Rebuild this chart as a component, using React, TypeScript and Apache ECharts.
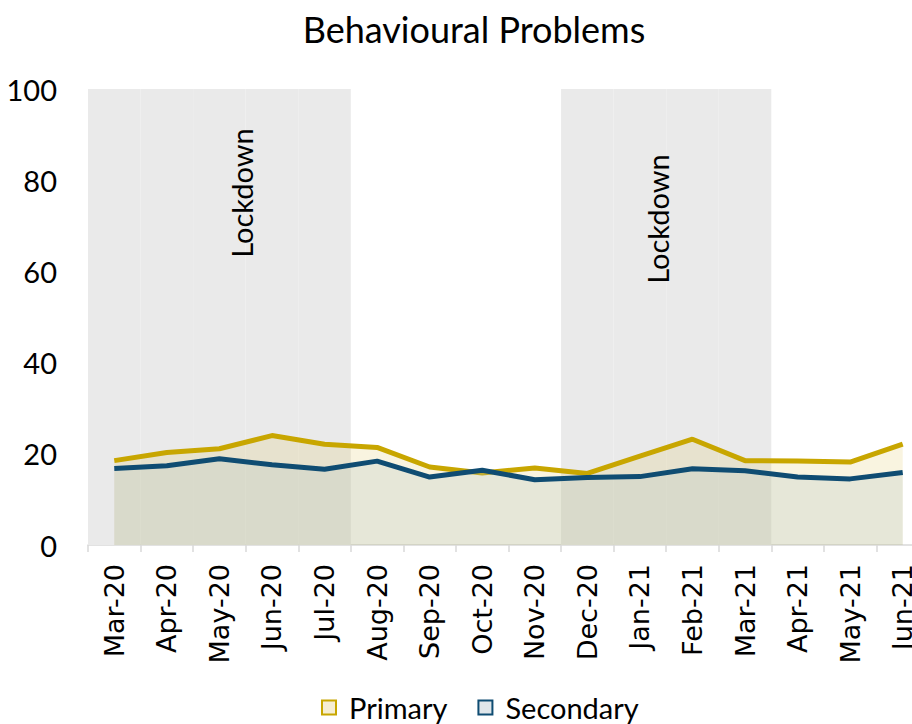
import React, { useEffect, useRef } from "react";
import * as echarts from "echarts";

const categories = [
  "Mar-20", "Apr-20", "May-20", "Jun-20", "Jul-20", "Aug-20", "Sep-20", "Oct-20",
  "Nov-20", "Dec-20", "Jan-21", "Feb-21", "Mar-21", "Apr-21", "May-21", "Jun-21",
];
const primary = [18.5, 20.3, 21.1, 24.0, 22.1, 21.4, 17.1, 15.8, 16.9, 15.7, 19.5, 23.2, 18.5, 18.4, 18.2, 22.1];
const secondary = [16.8, 17.4, 18.9, 17.6, 16.6, 18.4, 14.9, 16.4, 14.3, 14.8, 15.0, 16.7, 16.3, 14.9, 14.5, 15.9];
// 100 = lockdown month (shaded band), null = no lockdown
const lockdown = [100, 100, 100, 100, 100, null, null, null, null, 100, 100, 100, 100, null, null, null];
const yTicks = { min: 0, max: 100, interval: 20 };

const PRIMARY = "#C8A600";
const SECONDARY = "#0F4C72";
const LABEL_FONT = "Lato";

export default function App() {
  const ref = useRef<HTMLDivElement>(null);
  useEffect(() => {
    document.body.style.margin = "0";
    if (!ref.current) return;
    const chart = echarts.init(ref.current, null, { renderer: "svg" });
    chart.setOption({
      animation: false,
      backgroundColor: "#ffffff",
      grid: { left: 88, top: 89, height: 456, width: 841, outerBoundsMode: "none", containLabel: false },
      graphic: [
        {
          type: "text",
          x: 474,
          y: 29,
          style: {
            text: "Behavioural Problems",
            font: `36px ${LABEL_FONT}`,
            fill: "#000",
            align: "center",
            verticalAlign: "middle",
          },
        },
        {
          type: "text",
          x: 241,
          y: 193,
          rotation: Math.PI / 2,
          z: 10,
          style: {
            text: "Lockdown",
            font: `29px ${LABEL_FONT}`,
            fill: "#000",
            align: "center",
            verticalAlign: "middle",
          },
        },
        {
          type: "text",
          x: 657,
          y: 219,
          rotation: Math.PI / 2,
          z: 10,
          style: {
            text: "Lockdown",
            font: `29px ${LABEL_FONT}`,
            fill: "#000",
            align: "center",
            verticalAlign: "middle",
          },
        },
      ],
      legend: {
        left: 321,
        top: 693,
        padding: 0,
        itemWidth: 14,
        itemHeight: 14,
        itemGap: 30,
        textStyle: {
          fontFamily: LABEL_FONT,
          fontSize: 29,
          color: "#000",
          padding: [0, 0, 0, 8],
        },
        data: [
          {
            name: "Primary",
            icon: "rect",
            itemStyle: { color: "#F6EED3", borderColor: PRIMARY, borderWidth: 2 },
          },
          {
            name: "Secondary",
            icon: "rect",
            itemStyle: { color: "#E0E6EA", borderColor: SECONDARY, borderWidth: 2 },
          },
        ],
      },
      xAxis: {
        type: "category",
        data: categories,
        boundaryGap: true,
        axisLine: { lineStyle: { color: "#D9D9D9", width: 1.5 } },
        axisTick: { show: true, length: 7, lineStyle: { color: "#D9D9D9", width: 1.5 } },
        axisLabel: {
          rotate: 90,
          interval: 0,
          margin: 19,
          fontFamily: "DejaVu Sans",
          fontSize: 27,
          color: "#000",
          hideOverlap: false,
        },
        splitLine: { show: false },
      },
      yAxis: {
        type: "value",
        min: yTicks.min,
        max: yTicks.max,
        interval: yTicks.interval,
        axisLine: { show: false },
        axisTick: { show: false },
        splitLine: { show: false },
        axisLabel: {
          margin: 31,
          fontFamily: LABEL_FONT,
          fontSize: 29,
          color: "#000",
        },
      },
      series: [
        {
          name: "Lockdown",
          type: "bar",
          data: lockdown,
          barWidth: "100%",
          barGap: "-100%",
          itemStyle: { color: "#EAEAEA" },
          silent: true,
          z: 1,
        },
        {
          name: "Primary",
          type: "line",
          data: primary,
          symbol: "none",
          lineStyle: { color: PRIMARY, width: 5 },
          itemStyle: { color: PRIMARY },
          areaStyle: { color: "rgba(215,185,60,0.23)", origin: "start" },
          z: 3,
        },
        {
          name: "Secondary",
          type: "line",
          data: secondary,
          symbol: "none",
          lineStyle: { color: SECONDARY, width: 5 },
          itemStyle: { color: SECONDARY },
          areaStyle: { color: "rgba(172,195,193,0.35)", origin: "start" },
          z: 4,
        },
      ],
    });
    return () => chart.dispose();
  }, []);
  return <div ref={ref} style={{ width: 912, height: 724 }} />;
}
